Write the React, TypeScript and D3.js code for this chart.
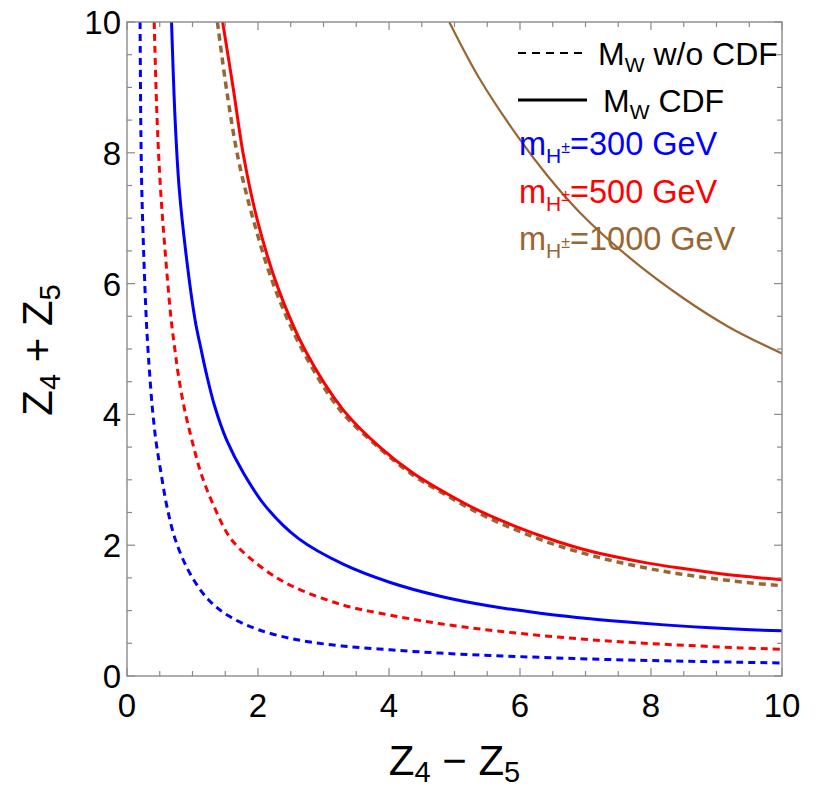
import React, { useEffect } from 'react';
import * as d3 from 'd3';

// ---- data ----
type Pt = [number, number];

const blueWithoutCDF: Pt[] = [
  [0.2, 10.0], [0.21, 8.5], [0.225, 7.48], [0.255, 6.46], [0.295, 5.44], [0.32, 5.0],
  [0.345, 4.63], [0.385, 4.12], [0.44, 3.61], [0.52, 3.1], [0.61, 2.59], [0.74, 2.08],
  [0.96, 1.57], [1.24, 1.17], [1.55, 0.92], [2.0, 0.71], [2.62, 0.55], [3.28, 0.46],
  [4.02, 0.4], [4.78, 0.35], [5.54, 0.315], [6.31, 0.285], [7.07, 0.26], [7.83, 0.24],
  [8.6, 0.225], [9.36, 0.21], [10, 0.2],
];

const redWithoutCDF: Pt[] = [
  [0.415, 10.0], [0.46, 8.5], [0.51, 7.48], [0.585, 6.46], [0.675, 5.44], [0.73, 5.0],
  [0.78, 4.63], [0.87, 4.12], [0.99, 3.61], [1.13, 3.1], [1.33, 2.59], [1.6, 2.08],
  [2.11, 1.62], [2.51, 1.38], [3.28, 1.09], [4.02, 0.93], [4.78, 0.8], [5.54, 0.7],
  [6.31, 0.62], [7.07, 0.555], [7.83, 0.505], [8.6, 0.465], [9.36, 0.43], [10, 0.41],
];

const brownWithoutCDF: Pt[] = [
  [1.38, 10.0], [1.53, 8.9], [1.7, 7.9], [1.93, 6.97], [2.25, 5.95], [2.67, 5.0],
  [3.25, 4.07], [3.86, 3.48], [4.37, 3.07], [4.88, 2.76], [5.39, 2.48], [5.9, 2.25],
  [6.41, 2.05], [6.92, 1.89], [7.42, 1.76], [7.93, 1.65], [8.44, 1.56], [8.95, 1.49],
  [9.46, 1.43], [10, 1.38],
];

const blueCDF: Pt[] = [
  [0.68, 10.0], [0.735, 8.5], [0.795, 7.48], [0.9, 6.46], [1.04, 5.44], [1.13, 5.0],
  [1.21, 4.63], [1.34, 4.12], [1.52, 3.61], [1.78, 3.1], [2.12, 2.59], [2.62, 2.1],
  [3.3, 1.71], [4.02, 1.43], [4.78, 1.22], [5.54, 1.07], [6.31, 0.96], [7.07, 0.875],
  [7.83, 0.81], [8.6, 0.755], [9.36, 0.715], [10, 0.69],
];

const redCDF: Pt[] = [
  [1.46, 10.0], [1.62, 9.0], [1.78, 7.95], [1.99, 6.97], [2.3, 5.95], [2.72, 4.98],
  [3.3, 4.07], [3.86, 3.5], [4.37, 3.1], [4.88, 2.79], [5.39, 2.52], [5.9, 2.3],
  [6.41, 2.11], [6.92, 1.95], [7.42, 1.83], [7.93, 1.73], [8.44, 1.65], [8.95, 1.58],
  [9.46, 1.52], [10, 1.47],
];

const brownCDF: Pt[] = [
  [4.92, 10.0], [5.39, 9.12], [6.0, 8.2], [6.41, 7.66], [6.92, 7.08], [7.68, 6.39],
  [8.49, 5.78], [9.2, 5.33], [10, 4.93],
];

const xTickLabels = [0, 2, 4, 6, 8, 10];
const yTickLabels = [0, 2, 4, 6, 8, 10];
const massLabels = ['300', '500', '1000'];

const BLUE = '#0000ff';
const RED = '#ff0000';
const BROWN = '#996633';

const series = [
  { data: blueWithoutCDF, color: BLUE, dashed: true, width: 3 },
  { data: redWithoutCDF, color: RED, dashed: true, width: 3 },
  { data: brownWithoutCDF, color: BROWN, dashed: true, width: 3.5 },
  { data: blueCDF, color: BLUE, dashed: false, width: 3 },
  { data: redCDF, color: RED, dashed: false, width: 3 },
  { data: brownCDF, color: BROWN, dashed: false, width: 2.2 },
];

const FONT = '"Liberation Sans", Arial, Helvetica, sans-serif';

export default function App() {
  useEffect(() => {
    document.body.style.margin = '0';
  }, []);

  const W = 817;
  const H = 790;
  const x = d3.scaleLinear().domain([0, 10]).range([127, 782]);
  const y = d3.scaleLinear().domain([0, 10]).range([676, 22]);

  const line = d3
    .line<Pt>()
    .x((d) => x(d[0]))
    .y((d) => y(d[1]))
    .curve(d3.curveCatmullRom.alpha(0.5));

  const minor = d3.range(0, 10.001, 0.5);
  const isMajor = (v: number) => Math.abs(v / 2 - Math.round(v / 2)) < 1e-6;
  const majLen = 8;
  const minLen = 5;
  const axisColor = '#8a8a8a';

  const [x0, x1] = x.range();
  const [y0, y1] = y.range();

  const legendColors = [BLUE, RED, BROWN];

  return (
    <svg width={W} height={H} style={{ display: 'block', background: '#fff' }} fontFamily={FONT}>
      <defs>
        <clipPath id="plotClip">
          <rect x={x0} y={y1} width={x1 - x0} height={y0 - y1} />
        </clipPath>
      </defs>

      {/* curves */}
      <g clipPath="url(#plotClip)" fill="none">
        {series.map((s, i) => (
          <path
            key={i}
            d={line(s.data) || ''}
            stroke={s.color}
            strokeWidth={s.width}
            strokeDasharray={s.dashed ? '7,5' : undefined}
            strokeLinecap="butt"
          />
        ))}
      </g>

      {/* frame */}
      <rect x={x0} y={y1} width={x1 - x0} height={y0 - y1} fill="none" stroke={axisColor} strokeWidth={1.4} />

      {/* ticks */}
      <g stroke={axisColor} strokeWidth={1.2}>
        {minor.map((v) => {
          const L = isMajor(v) ? majLen : minLen;
          return (
            <g key={'t' + v}>
              <line x1={x(v)} x2={x(v)} y1={y0} y2={y0 - L} />
              <line x1={x(v)} x2={x(v)} y1={y1} y2={y1 + L} />
              <line x1={x0} x2={x0 + L} y1={y(v)} y2={y(v)} />
              <line x1={x1} x2={x1 - L} y1={y(v)} y2={y(v)} />
            </g>
          );
        })}
      </g>

      {/* tick labels */}
      <g fontSize={33} fill="#000">
        {xTickLabels.map((v) => (
          <text key={'xl' + v} x={x(v)} y={717} textAnchor="middle">
            {v}
          </text>
        ))}
        {yTickLabels.map((v) => (
          <text key={'yl' + v} x={121} y={y(v) + 12} textAnchor="end">
            {v}
          </text>
        ))}
      </g>

      {/* axis titles */}
      <text x={(x0 + x1) / 2} y={775} textAnchor="middle" fontSize={42} fill="#000">
        <tspan>Z</tspan>
        <tspan fontSize={29} dy={7}>4</tspan>
        <tspan dy={-7}>{' \u2212 '}</tspan>
        <tspan>Z</tspan>
        <tspan fontSize={29} dy={7}>5</tspan>
      </text>
      <text
        transform={`translate(52,350) rotate(-90)`}
        textAnchor="middle"
        fontSize={42}
        fill="#000"
      >
        <tspan>Z</tspan>
        <tspan fontSize={29} dy={8}>4</tspan>
        <tspan dy={-8}>{' + '}</tspan>
        <tspan>Z</tspan>
        <tspan fontSize={29} dy={8}>5</tspan>
      </text>

      {/* legend */}
      <line x1={518} x2={587} y1={53} y2={53} stroke="#000" strokeWidth={2.2} strokeDasharray="8,6" />
      <text x={598} y={65} fontSize={32} fill="#000">
        <tspan>M</tspan>
        <tspan fontSize={21} dy={7}>W</tspan>
        <tspan dy={-7}>{' w/o CDF'}</tspan>
      </text>
      <line x1={518} x2={587} y1={100} y2={100} stroke="#000" strokeWidth={2.8} />
      <text x={603} y={112} fontSize={32} fill="#000">
        <tspan>M</tspan>
        <tspan fontSize={21} dy={7}>W</tspan>
        <tspan dy={-7}>{' CDF'}</tspan>
      </text>

      {massLabels.map((m, i) => (
        <text key={m} x={519} y={155 + i * 47.5} fontSize={32.5} fill={legendColors[i]}>
          <tspan>m</tspan>
          <tspan fontSize={21} dy={8}>H</tspan>
          <tspan fontSize={16} dy={-10}>±</tspan>
          <tspan dy={2}>{'=' + m + ' GeV'}</tspan>
        </text>
      ))}
    </svg>
  );
}
